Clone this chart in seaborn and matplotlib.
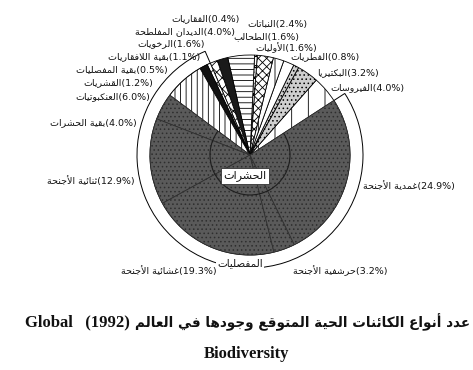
import numpy as np
import matplotlib
matplotlib.use("Agg")
import matplotlib.pyplot as plt
import seaborn as sns
from matplotlib.patches import Wedge, Arc

# ---------------- data (counter-clockwise order) ----------------
names = ["الفيروسات", "البكتيريا", "الفطريات", "الأوليات", "الطحالب", "النباتات",
         "الفقاريات", "الديدان المفلطحة", "الرخويات", "بقية اللافقاريات",
         "بقية المفصليات", "القشريات", "العنكبوتيات", "بقية الحشرات",
         "ثنائية الأجنحة", "غشائية الأجنحة", "حرشفية الأجنحة", "غمدية الأجنحة"]
values = [4.0, 3.2, 0.8, 1.6, 1.6, 2.4,
          0.4, 4.0, 1.6, 1.1,
          0.5, 1.2, 6.0, 4.0,
          12.9, 19.3, 3.2, 24.9]
arthropod_first = 10   # index of first arthropod slice
insect_first = 13      # index of first insect slice
group_insects = "الحشرات"
group_arthropods = "المفصليات"
title_ar = "عدد أنواع الكائنات الحية المتوقع وجودها في العالم"
title_year = "(1992)"
title_en1 = "Global"
title_en2 = "Biodiversity"

# ---------------- simple Arabic shaping (presentation forms) ----------------
_AR = {
    '\u0627': (0xFE8D, 0xFE8E), '\u0623': (0xFE83, 0xFE84), '\u0625': (0xFE87, 0xFE88),
    '\u0622': (0xFE81, 0xFE82), '\u0628': (0xFE8F, 0xFE90, 0xFE91, 0xFE92),
    '\u0629': (0xFE93, 0xFE94), '\u062A': (0xFE95, 0xFE96, 0xFE97, 0xFE98),
    '\u062B': (0xFE99, 0xFE9A, 0xFE9B, 0xFE9C), '\u062C': (0xFE9D, 0xFE9E, 0xFE9F, 0xFEA0),
    '\u062D': (0xFEA1, 0xFEA2, 0xFEA3, 0xFEA4), '\u062E': (0xFEA5, 0xFEA6, 0xFEA7, 0xFEA8),
    '\u062F': (0xFEA9, 0xFEAA), '\u0630': (0xFEAB, 0xFEAC), '\u0631': (0xFEAD, 0xFEAE),
    '\u0632': (0xFEAF, 0xFEB0), '\u0633': (0xFEB1, 0xFEB2, 0xFEB3, 0xFEB4),
    '\u0634': (0xFEB5, 0xFEB6, 0xFEB7, 0xFEB8), '\u0635': (0xFEB9, 0xFEBA, 0xFEBB, 0xFEBC),
    '\u0636': (0xFEBD, 0xFEBE, 0xFEBF, 0xFEC0), '\u0637': (0xFEC1, 0xFEC2, 0xFEC3, 0xFEC4),
    '\u0638': (0xFEC5, 0xFEC6, 0xFEC7, 0xFEC8), '\u0639': (0xFEC9, 0xFECA, 0xFECB, 0xFECC),
    '\u063A': (0xFECD, 0xFECE, 0xFECF, 0xFED0), '\u0641': (0xFED1, 0xFED2, 0xFED3, 0xFED4),
    '\u0642': (0xFED5, 0xFED6, 0xFED7, 0xFED8), '\u0643': (0xFED9, 0xFEDA, 0xFEDB, 0xFEDC),
    '\u0644': (0xFEDD, 0xFEDE, 0xFEDF, 0xFEE0), '\u0645': (0xFEE1, 0xFEE2, 0xFEE3, 0xFEE4),
    '\u0646': (0xFEE5, 0xFEE6, 0xFEE7, 0xFEE8), '\u0647': (0xFEE9, 0xFEEA, 0xFEEB, 0xFEEC),
    '\u0648': (0xFEED, 0xFEEE), '\u0624': (0xFE85, 0xFE86), '\u0649': (0xFEEF, 0xFEF0),
    '\u064A': (0xFEF1, 0xFEF2, 0xFEF3, 0xFEF4), '\u0626': (0xFE89, 0xFE8A, 0xFE8B, 0xFE8C),
}
_LA = {'\u0622': (0xFEF5, 0xFEF6), '\u0623': (0xFEF7, 0xFEF8),
       '\u0625': (0xFEF9, 0xFEFA), '\u0627': (0xFEFB, 0xFEFC)}


def shape(text):
    units = []
    i = 0
    while i < len(text):
        c = text[i]
        if c == '\u0644' and i + 1 < len(text) and text[i + 1] in _LA:
            units.append(('LA', _LA[text[i + 1]]))
            i += 2
        else:
            units.append((c, _AR.get(c)))
            i += 1
    out = []
    for k, (c, f) in enumerate(units):
        if f is None:
            out.append(c)
            continue
        prev = units[k - 1] if k > 0 else None
        nxt = units[k + 1] if k + 1 < len(units) else None
        jp = prev is not None and prev[1] is not None and len(prev[1]) == 4
        jn = len(f) == 4 and nxt is not None and nxt[1] is not None
        if jp and jn:
            g = f[3]
        elif jp:
            g = f[1]
        elif jn:
            g = f[2]
        else:
            g = f[0]
        out.append(chr(g))
    return ''.join(out)


def vis(text):
    return shape(text)[::-1]


# ---------------- styling ----------------
sns.set_theme(style="white")
plt.rcParams['font.family'] = ['DejaVu Sans']
plt.rcParams['hatch.linewidth'] = 0.6

faces = ["white", "#cfcfcf", "#cfcfcf", "white", "white", "white",
         "white", "white", "#1a1a1a", "white",
         "white", "#111111", "white", "#5a5a5a",
         "#5a5a5a", "#5a5a5a", "#5a5a5a", "#5a5a5a"]
hatches = ["|", "....", "....", "", "|", "xxxx",
           "ooo", "---", "", "xxx",
           "xx", "", "|||", "....",
           "....", "....", "....", "...."]

fig = plt.figure(figsize=(4.73, 3.70), dpi=100)
ax = fig.add_axes([0, 0, 1, 1])

wedges, _ = ax.pie(values, startangle=33, counterclock=True, radius=1.0,
                   center=(0, 0),
                   wedgeprops=dict(linewidth=0.6, edgecolor="black"))
for k, (w, fc, h) in enumerate(zip(wedges, faces, hatches)):
    w.set_facecolor(fc)
    w.set_hatch(h)
    if k >= insect_first:
        w.set_edgecolor("#2e2e2e")

# arthropod ring
t1 = wedges[arthropod_first].theta1
t2 = wedges[-1].theta2
ring = Wedge((0, 0), 1.13, t1, t2, width=0.13, facecolor="white",
             edgecolor="black", linewidth=0.7, zorder=0)
ax.add_patch(ring)
# insects inner arc
ax.add_patch(Arc((0, 0), 0.8, 0.8, theta1=wedges[insect_first].theta1,
                 theta2=t2, color="#1e1e1e", linewidth=0.8, zorder=5))

ax.set_xlim(-2.50, 2.23)
ax.set_ylim(-2.15, 1.55)
ax.set_aspect("equal")
ax.axis("off")


def P(px, py):
    return ((px - 250) / 100.0, (155 - py) / 100.0)


# label anchor positions in pixels (x, y, ha)
label_pos = [
    (330, 88, "left"), (317, 73, "left"), (290, 57, "left"), (255, 48, "left"),
    (233, 37, "left"), (247, 24, "left"),
    (240, 19, "right"), (235, 32, "right"), (205, 44, "right"), (200, 57, "right"),
    (168, 70, "right"), (153, 83, "right"), (150, 97, "right"), (137, 123, "right"),
    (135, 181, "right"), (217, 271, "right"), (293, 271, "left"), (363, 186, "left"),
]
for name, v, (px, py, ha) in zip(names, values, label_pos):
    x, y = P(px, py)
    ax.text(x, y, f"{vis(name)}({v:.1f}%)", ha=ha, va="center",
            fontsize=6.8, color="#111111")

# group labels
x, y = P(245, 176)
ax.text(x, y, vis(group_insects), ha="center", va="center", fontsize=8,
        color="#111111", zorder=10,
        bbox=dict(boxstyle="square,pad=0.2", facecolor="white",
                  edgecolor="#333333", linewidth=0.6))
x, y = P(240, 263)
ax.text(x, y, vis(group_arthropods), ha="center", va="center", fontsize=7.5,
        color="#111111", zorder=10,
        bbox=dict(boxstyle="square,pad=0.1", facecolor="white",
                  edgecolor="none"))

# title: Latin part (bold serif) on the left, Arabic part on the right
W, H = 473.0, 370.0
fig.text(130 / W, 1 - 322 / H, f"{title_en1}   {title_year}", ha="right",
         va="center", fontsize=12, fontweight="bold",
         family=["Liberation Serif"], color="#111111")
tar = fig.text(135 / W, 1 - 322 / H, vis(title_ar), ha="left", va="center",
               fontsize=12, fontweight="bold", family=["DejaVu Sans"],
               color="#111111")
fig.canvas.draw()
bb = tar.get_window_extent(renderer=fig.canvas.get_renderer())
tar.set_fontsize(12 * (468 - 135) / bb.width)
fig.text(247 / W, 1 - 354 / H, title_en2, ha="center", va="center",
         fontsize=12, fontweight="bold", family=["Liberation Serif"],
         color="#111111")

fig.savefig("out.png", dpi=100, facecolor="white")
